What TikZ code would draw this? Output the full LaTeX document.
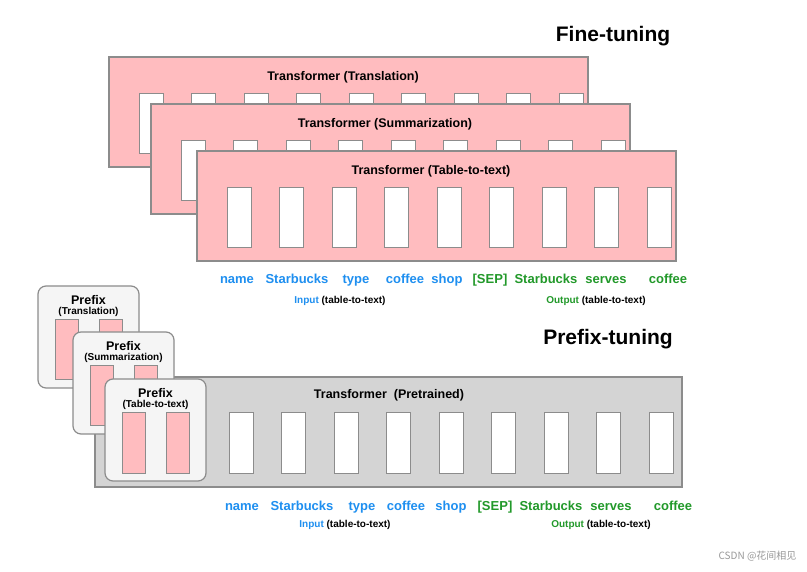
\documentclass[tikz,border=0pt]{standalone}
\usepackage{fontspec}
\setmainfont{Liberation Sans}
\newfontfamily\cjk{Noto Sans CJK SC}
\begin{document}
\begin{tikzpicture}[x=1pt,y=-1pt,font=\bfseries,
  tbox/.style={draw=black!45,line width=1.2pt,fill=pinkc},
  gbox/.style={draw=black!45,line width=1.2pt,fill=black!17},
  pbox/.style={draw=black!45,line width=1.2pt,fill=black!4,rounded corners=8pt},
  cell/.style={draw=black!45,line width=1pt,fill=white},
  pcell/.style={draw=black!45,line width=1pt,fill=pinkc},
  ttl/.style={font=\bfseries\fontsize{12.5}{15}\selectfont},
  big/.style={font=\bfseries\fontsize{21}{24}\selectfont},
  wb/.style={text=bluec,anchor=base,font=\bfseries\fontsize{13}{15}\selectfont},
  wg/.style={text=greenc,anchor=base,font=\bfseries\fontsize{13}{15}\selectfont},
  sm/.style={font=\bfseries\fontsize{10}{12}\selectfont}]
\definecolor{pinkc}{HTML}{FFBCBF}
\definecolor{bluec}{HTML}{1E8FF0}
\definecolor{greenc}{HTML}{22992A}
\useasboundingbox (0,0) rectangle (807,572);
\fill[white] (0,0) rectangle (807,572);
\node[big] (ft) at (613,36) {Fine-tuning};
\foreach \bx/\by/\t [count=\k] in {109/57/Translation,151/104/Summarization,197/151/Table-to-text}{
  \draw[tbox] (\bx,\by) rectangle ++(479,110);
  \node[ttl] (t\k) at (\bx+234,\by+20) {Transformer (\t)};
  \foreach \i in {0,...,8}
    \draw[cell] (\bx+30+\i*52.5,\by+37) rectangle ++(24,60);
}
\foreach \w/\x/\s in {name/237/wb,Starbucks/297/wb,type/356/wb,coffee/405/wb,shop/447/wb,[SEP]/490/wg,Starbucks/546/wg,serves/606/wg,coffee/668/wg}
  \node[\s] at (\x,284) {\w};
\node[sm] (in1) at (340,301) {\textcolor{bluec}{Input} (table-to-text)};
\node[sm] (out1) at (596,301) {\textcolor{greenc}{Output} (table-to-text)};
\node[big] (pt) at (608,339) {Prefix-tuning};
\draw[gbox] (95,377) rectangle (682,487);
\node[ttl] (tp) at (389,395) {Transformer\ \ (Pretrained)};
\foreach \i in {0,...,8}
  \draw[cell] (229+\i*52.5,413) rectangle ++(24,60);
\foreach \bx/\by/\t [count=\k] in {38/286/Translation,73/332/Summarization,105/379/Table-to-text}{
  \draw[pbox] (\bx,\by) rectangle ++(101,102);
  \node[ttl] (p\k) at (\bx+50.5,\by+14) {Prefix};
  \node[sm] (ps\k) at (\bx+50.5,\by+26) {(\t)};
  \draw[pcell] (\bx+17,\by+34) rectangle ++(23,60);
  \draw[pcell] (\bx+61,\by+34) rectangle ++(23,60);
}
\foreach \w/\x/\s in {name/242/wb,Starbucks/302/wb,type/362/wb,coffee/406/wb,shop/451/wb,[SEP]/495/wg,Starbucks/551/wg,serves/611/wg,coffee/673/wg}
  \node[\s] at (\x,511) {\w};
\node[sm] (in2) at (345,525) {\textcolor{bluec}{Input} (table-to-text)};
\node[sm] (out2) at (601,525) {\textcolor{greenc}{Output} (table-to-text)};
\node[text=black!40,font=\fontsize{10}{12}\selectfont\cjk,anchor=east] (wm) at (800,556) {CSDN @花间相见};
\end{tikzpicture}
\end{document}
